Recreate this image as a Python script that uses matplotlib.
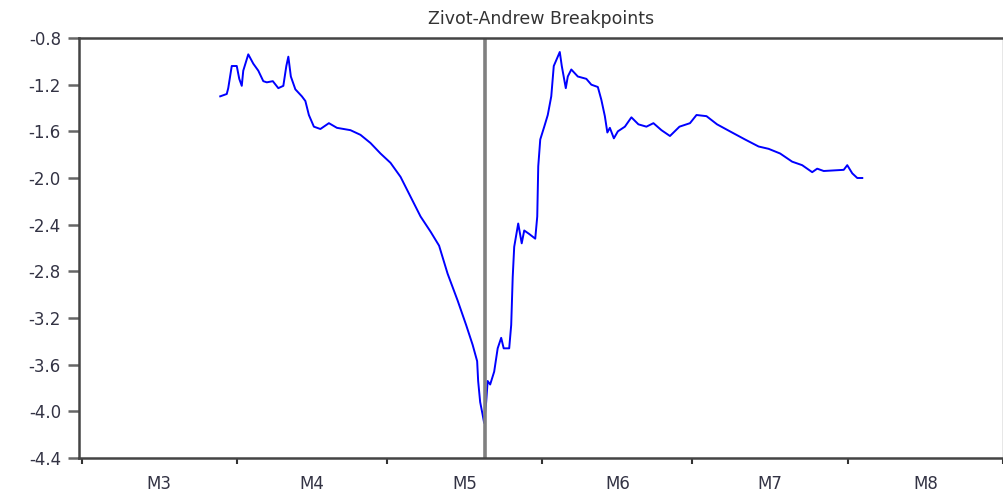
import matplotlib
matplotlib.use('Agg')
import matplotlib.pyplot as plt

# Days counted from the start of M3.
days = [27.7, 29.0, 29.3, 30.0, 31.0, 31.5, 32.0, 32.3, 33.3, 34.3,
        35.3, 36.3, 37.0, 38.2, 39.3, 40.3, 40.9, 41.3, 41.8, 42.7,
        44.0, 44.7, 45.4, 46.4, 47.7, 49.4, 51.0, 53.7, 55.7, 57.7,
        59.7, 61.7, 63.7, 65.7, 67.7, 69.7, 71.4, 73.1, 75.1, 76.8,
        78.1, 79.0, 79.2, 79.6, 80.1, 80.4, 80.8, 81.1, 81.6, 82.4,
        83.1, 83.8, 84.3, 85.4, 85.8, 86.1, 86.4, 87.2, 87.9, 88.4,
        89.4, 90.6, 91.0, 91.2, 91.6, 92.4, 93.1, 93.8, 94.3, 95.0,
        95.5, 95.9, 96.7, 97.1, 97.8, 99.1, 100.8, 101.8, 103.1, 103.8,
        104.5, 105.0, 105.5, 106.3, 107.1, 108.5, 109.8, 111.2, 112.8, 114.2,
        115.8, 117.5, 119.4, 121.5, 122.8, 124.8, 126.9, 129.9, 132.5, 135.2,
        137.2, 139.5, 141.9, 143.9, 145.9, 146.9, 148.2, 152.2, 152.9, 153.9,
        154.9, 155.9]
stat = [-1.30, -1.28, -1.23, -1.04, -1.04, -1.15, -1.21, -1.08, -0.94, -1.02,
        -1.08, -1.17, -1.18, -1.17, -1.23, -1.21, -1.04, -0.96, -1.13, -1.24,
        -1.30, -1.34, -1.46, -1.56, -1.58, -1.53, -1.57, -1.59, -1.63, -1.70,
        -1.79, -1.87, -1.99, -2.16, -2.33, -2.46, -2.58, -2.82, -3.05, -3.26,
        -3.43, -3.57, -3.74, -3.92, -4.03, -4.10, -3.92, -3.74, -3.77, -3.66,
        -3.46, -3.37, -3.46, -3.46, -3.26, -2.85, -2.59, -2.39, -2.56, -2.45,
        -2.48, -2.52, -2.33, -1.90, -1.67, -1.56, -1.46, -1.30, -1.04, -0.97,
        -0.92, -1.04, -1.23, -1.13, -1.07, -1.13, -1.15, -1.20, -1.22, -1.33,
        -1.47, -1.61, -1.57, -1.66, -1.60, -1.56, -1.48, -1.54, -1.56, -1.53,
        -1.59, -1.64, -1.56, -1.53, -1.46, -1.47, -1.54, -1.61, -1.67, -1.73,
        -1.75, -1.79, -1.86, -1.89, -1.95, -1.92, -1.94, -1.93, -1.89, -1.96,
        -2.00, -2.00]

breakpoint_day = 80.6
month_starts = [0, 31, 61, 92, 122, 153, 184]
month_labels = ['M3', 'M4', 'M5', 'M6', 'M7', 'M8']
y_ticks = [-4.4, -4.0, -3.6, -3.2, -2.8, -2.4, -2.0, -1.6, -1.2, -0.8]

# the reference text is wide, DejaVu Sans is the widest face we have
plt.rcParams['font.family'] = ['DejaVu Sans']

fig = plt.figure(figsize=(10.04, 4.91), dpi=100)
ax = fig.add_axes([79 / 1004, 1 - 458 / 491, 924 / 1004, 420 / 491])

ax.plot(days, stat, color='#0000ff', linewidth=1.4)
ax.axvline(breakpoint_day, color='#808080', linewidth=2.6)

ax.set_xlim(-0.5, 184)
ax.set_ylim(-4.4, -0.8)

# Month boundaries get the tick marks, labels sit in the middle of each month.
ax.set_xticks(month_starts)
ax.set_xticklabels([])
mids = [(a + b) / 2 for a, b in zip(month_starts[:-1], month_starts[1:])]
ax.set_xticks(mids, minor=True)
ax.set_xticklabels(month_labels, minor=True)
ax.tick_params(axis='x', which='major', direction='out', length=4, width=1.5,
               color='#333333')
ax.tick_params(axis='x', which='minor', length=0, pad=12, labelsize=12,
               labelcolor='#333344')

ax.set_yticks(y_ticks)
ax.set_yticklabels(['%.1f' % v for v in y_ticks])
ax.tick_params(axis='y', direction='out', length=8, width=1.8, pad=5,
               color='#666666', labelsize=12, labelcolor='#333344')

for side in ['left', 'bottom', 'top']:
    ax.spines[side].set_linewidth(1.8)
    ax.spines[side].set_color('#444444')
ax.spines['right'].set_linewidth(1.0)
ax.spines['right'].set_color('#888888')

ax.set_title('Zivot-Andrew Breakpoints', fontsize=12.5, color='#333333', pad=10)

fig.savefig('out.png', dpi=100)
